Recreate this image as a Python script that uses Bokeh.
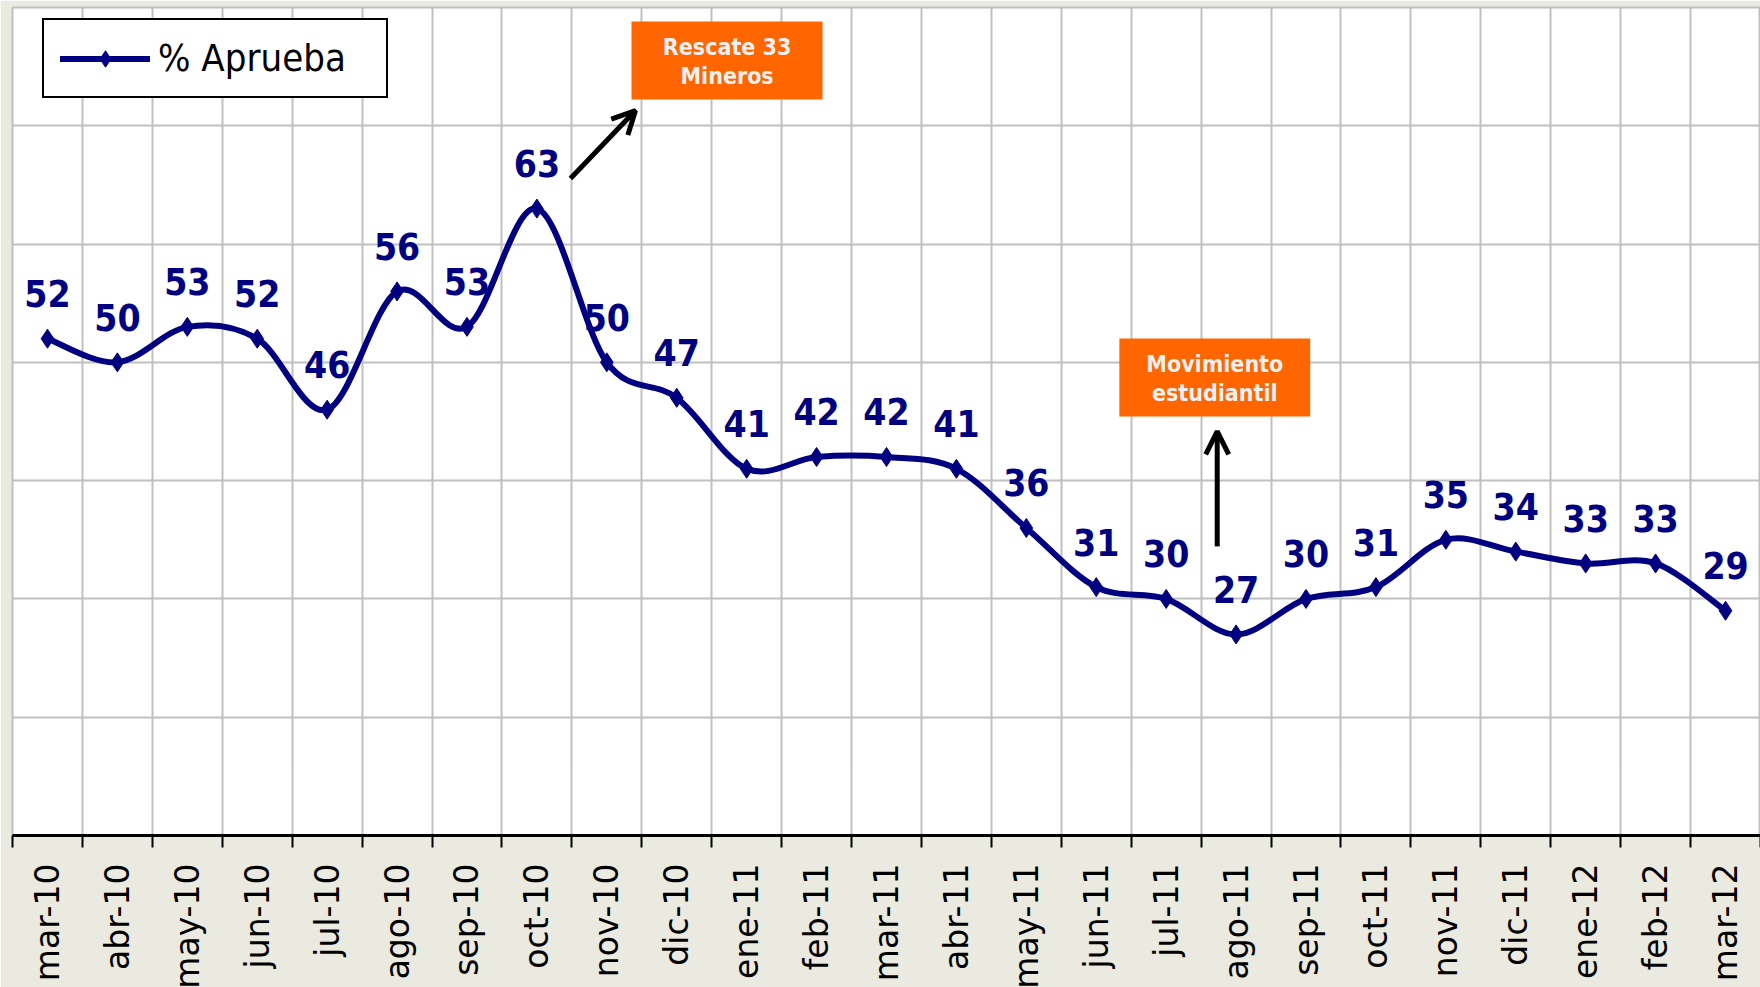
import numpy as np
from bokeh.plotting import figure
from bokeh.models import (Range1d, FixedTicker, Legend, LegendItem, BoxAnnotation,
                          Arrow, OpenHead, ColumnDataSource, Label)
from bokeh.core.properties import value
from bokeh.embed import file_html
from bokeh.resources import INLINE

# ---------------- data ----------------
months = ["mar-10", "abr-10", "may-10", "jun-10", "jul-10", "ago-10", "sep-10",
          "oct-10", "nov-10", "dic-10", "ene-11", "feb-11", "mar-11", "abr-11",
          "may-11", "jun-11", "jul-11", "ago-11", "sep-11", "oct-11", "nov-11",
          "dic-11", "ene-12", "feb-12", "mar-12"]
aprueba = [52, 50, 53, 52, 46, 56, 53, 63, 50, 47, 41, 42, 42, 41, 36,
           31, 30, 27, 30, 31, 35, 34, 33, 33, 29]
series_name = "% Aprueba"
y_grid_values = [20, 30, 40, 50, 60, 70]

event1_lines = ["Rescate 33", "Mineros"]
event2_lines = ["Movimiento", "estudiantil"]

# ---------------- styles ----------------
NAVY = "#000080"
ORANGE = "#FF6600"
BEIGE = "#EAEAE0"
GRID = "#C0C0C0"
COND = "DejaVu Sans Condensed"

n = len(aprueba)
xi = np.arange(n, dtype=float)
yv = np.array(aprueba, dtype=float)

# Smoothed line (Excel-like) as cubic Bezier segments between the data points
xp = np.concatenate([[xi[0]], xi, [xi[-1]]])
yp = np.concatenate([[yv[0]], yv, [yv[-1]]])
bz = dict(x0=[], y0=[], x1=[], y1=[], cx0=[], cy0=[], cx1=[], cy1=[])
for i in range(n - 1):
    k = i + 1
    bz["x0"].append(xp[k]); bz["y0"].append(yp[k])
    bz["x1"].append(xp[k + 1]); bz["y1"].append(yp[k + 1])
    bz["cx0"].append(xp[k] + (xp[k + 1] - xp[k - 1]) / 6.0)
    bz["cy0"].append(yp[k] + (yp[k + 1] - yp[k - 1]) / 6.0)
    bz["cx1"].append(xp[k + 1] - (xp[k + 2] - xp[k]) / 6.0)
    bz["cy1"].append(yp[k + 1] - (yp[k + 2] - yp[k]) / 6.0)
bz_src = ColumnDataSource(bz)

pts = ColumnDataSource(dict(x=xi, y=yv, lab=[str(v) for v in aprueba]))

p = figure(frame_width=1748, frame_height=828,
           x_range=Range1d(-0.5, 24.5), y_range=Range1d(10, 80),
           output_backend="svg", toolbar_location=None, title=None,
           min_border_left=12, min_border_right=0, min_border_top=7,
           min_border_bottom=152)
p.border_fill_color = BEIGE
p.background_fill_color = "white"
p.outline_line_color = GRID
p.outline_line_width = 2

p.yaxis.visible = False
p.ygrid.ticker = FixedTicker(ticks=y_grid_values)
p.xgrid.ticker = FixedTicker(ticks=[i + 0.5 for i in range(n - 1)])
for g in (p.xgrid[0], p.ygrid[0]):
    g.grid_line_color = GRID
    g.grid_line_width = 2

ax = p.xaxis[0]
ax.ticker = FixedTicker(ticks=list(range(n)), minor_ticks=[i - 0.5 for i in range(n + 1)])
ax.major_label_overrides = {i: m for i, m in enumerate(months)}
ax.major_label_orientation = np.pi / 2
ax.major_tick_out = 0
ax.major_tick_in = 0
ax.minor_tick_out = 12
ax.minor_tick_in = 0
ax.minor_tick_line_color = "black"
ax.minor_tick_line_width = 2
ax.axis_line_color = "black"
ax.axis_line_width = 3
ax.major_label_text_font = "DejaVu Sans"
ax.major_label_text_font_size = "33px"
ax.major_label_text_color = "black"
ax.major_label_standoff = 16

curve = p.bezier(x0="x0", y0="y0", x1="x1", y1="y1", cx0="cx0", cy0="cy0",
                 cx1="cx1", cy1="cy1", source=bz_src, line_color=NAVY,
                 line_width=6, line_cap="round")
marks = p.scatter(x="x", y="y", source=pts, marker="diamond",
                  size=19, fill_color=NAVY, line_color=NAVY)

p.text(x="x", y="y", text="lab", source=pts, y_offset=-45,
       text_align="center", text_baseline="middle", text_color=NAVY,
       text_font=value(COND), text_font_style="bold", text_font_size="37px")

legend = Legend(items=[LegendItem(label=series_name, renderers=[curve, marks])],
                location=(30, 737), padding=16, spacing=0, margin=0,
                glyph_width=90, glyph_height=41, label_height=41,
                label_width=212, label_standoff=8,
                border_line_color="black", border_line_width=2,
                border_line_alpha=1,
                background_fill_color="white", background_fill_alpha=1,
                label_text_font=COND, label_text_font_size="38px",
                label_text_color="black")
p.add_layout(legend)

# ---------------- event annotations ----------------
box1 = dict(left=8.353, right=11.085, bottom=72.22, top=78.82)
box2 = dict(left=15.33, right=18.06, bottom=45.43, top=52.02)
for b in (box1, box2):
    p.add_layout(BoxAnnotation(**b, fill_color=ORANGE, fill_alpha=1,
                               line_alpha=0))

def add_lines(lines, xc, ys):
    for t, yy in zip(lines, ys):
        p.add_layout(Label(x=xc, y=yy, text=t, text_align="center",
                           text_baseline="middle", text_color="#F0F0F0",
                           text_font=COND, text_font_style="bold",
                           text_font_size="23px"))

add_lines(event1_lines, 9.72, [76.70, 74.25])
add_lines(event2_lines, 16.695, [49.82, 47.37])

p.add_layout(Arrow(end=OpenHead(size=23, line_width=5, line_color="black"),
                   x_start=7.48, y_start=65.55, x_end=8.41, y_end=71.29,
                   line_width=5, line_color="black"))
p.add_layout(Arrow(end=OpenHead(size=23, line_width=5, line_color="black"),
                   x_start=16.73, y_start=34.44, x_end=16.73, y_end=44.16,
                   line_width=5, line_color="black"))

open("out.html", "w").write(file_html(p, INLINE))
